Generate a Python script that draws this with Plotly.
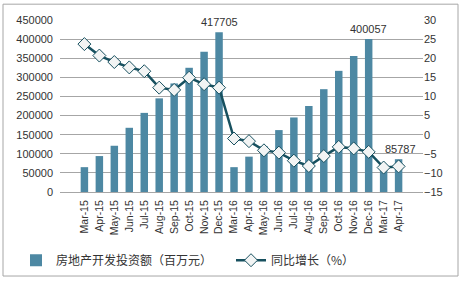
import plotly.graph_objects as go

months = ["Mar-15", "Apr-15", "May-15", "Jun-15", "Jul-15", "Aug-15", "Sep-15", "Oct-15",
          "Nov-15", "Dec-15", "Mar-16", "Apr-16", "May-16", "Jun-16", "Jul-16", "Aug-16",
          "Sep-16", "Oct-16", "Nov-16", "Dec-16", "Mar-17", "Apr-17"]
investment = [65000, 94000, 121000, 168000, 207000, 245000, 284000, 325000,
              367000, 417705, 65000, 92500, 120000, 162000, 195000, 225000,
              269000, 317000, 356000, 400057, 60000, 85787]
growth = [23.7, 20.7, 19.0, 17.6, 16.6, 12.3, 11.7, 14.9,
          13.2, 12.3, -1.0, -1.7, -4.1, -4.7, -6.8, -8.2,
          -5.6, -3.2, -3.6, -4.5, -8.6, -8.3]
labelled = {"Dec-15": 417705, "Dec-16": 400057}

W, H = 462, 287
ml, mr, mt, mb = 60, 39, 20, 93
pw, ph = W - ml - mr, H - mt - mb

def px(x):
    return (x - ml) / pw

def py(y):
    return (H - mb - y) / ph

font = "Liberation Sans, Arial, sans-serif"
cjk = "Noto Sans CJK SC, Liberation Sans, sans-serif"

fig = go.Figure()
fig.add_trace(go.Bar(
    x=months, y=investment, name="房地产开发投资额（百万元）",
    marker=dict(color="#4D88A3", line=dict(width=0)), width=0.5, yaxis="y",
    legend="legend",
))
fig.add_trace(go.Scatter(
    x=months, y=growth, name="同比增长（%）", yaxis="y2", mode="lines+markers",
    line=dict(color="#17505F", width=2.5),
    marker=dict(symbol="diamond", size=10, color="#F2F4F4", line=dict(color="#17505F", width=1)),
    legend="legend2",
))

for m, v in labelled.items():
    fig.add_annotation(x=m, y=v, xref="x", yref="y", text=str(v), showarrow=False,
                       yanchor="bottom", yshift=2, font=dict(size=11, color="#333333", family=font))
fig.add_annotation(x="Apr-17", y=investment[-1], xref="x", yref="y", text=str(investment[-1]),
                   showarrow=False, yanchor="bottom", yshift=2, xshift=2,
                   font=dict(size=11, color="#333333", family=font))

fig.add_shape(type="rect", xref="paper", yref="paper",
              x0=px(3), x1=px(458), y0=py(4), y1=py(279),
              line=dict(color="#A6A6A6", width=1), fillcolor="rgba(0,0,0,0)", layer="below")

leg_common = dict(orientation="h", y=py(263), yanchor="middle", xanchor="left",
                  font=dict(family=cjk, size=12, color="#333333"),
                  bgcolor="rgba(0,0,0,0)", itemwidth=30)

fig.update_layout(
    width=W, height=H,
    margin=dict(l=ml, r=mr, t=mt, b=mb, pad=0),
    paper_bgcolor="white", plot_bgcolor="white",
    font=dict(family=font, size=11, color="#333333"),
    showlegend=True,
    legend=dict(x=px(16), **leg_common),
    legend2=dict(x=px(231), **leg_common),
    xaxis=dict(type="category", tickangle=-90, showgrid=False, showline=True,
               linecolor="#A6A6A6", linewidth=1, ticks="", ticklabelstandoff=3,
               tickfont=dict(size=10.5, family=font, color="#333333")),
    yaxis=dict(range=[0, 450000], dtick=50000, showgrid=True, gridcolor="#A6A6A6",
               gridwidth=1, zeroline=False, ticks="", tickformat="d", ticklabelstandoff=6,
               tickfont=dict(size=11, family=font, color="#333333")),
    yaxis2=dict(range=[-15, 30], dtick=5, overlaying="y", side="right", showgrid=False,
                zeroline=False, ticks="", tickfont=dict(size=11, family=font, color="#333333")),
)

fig.write_html("out.html")
